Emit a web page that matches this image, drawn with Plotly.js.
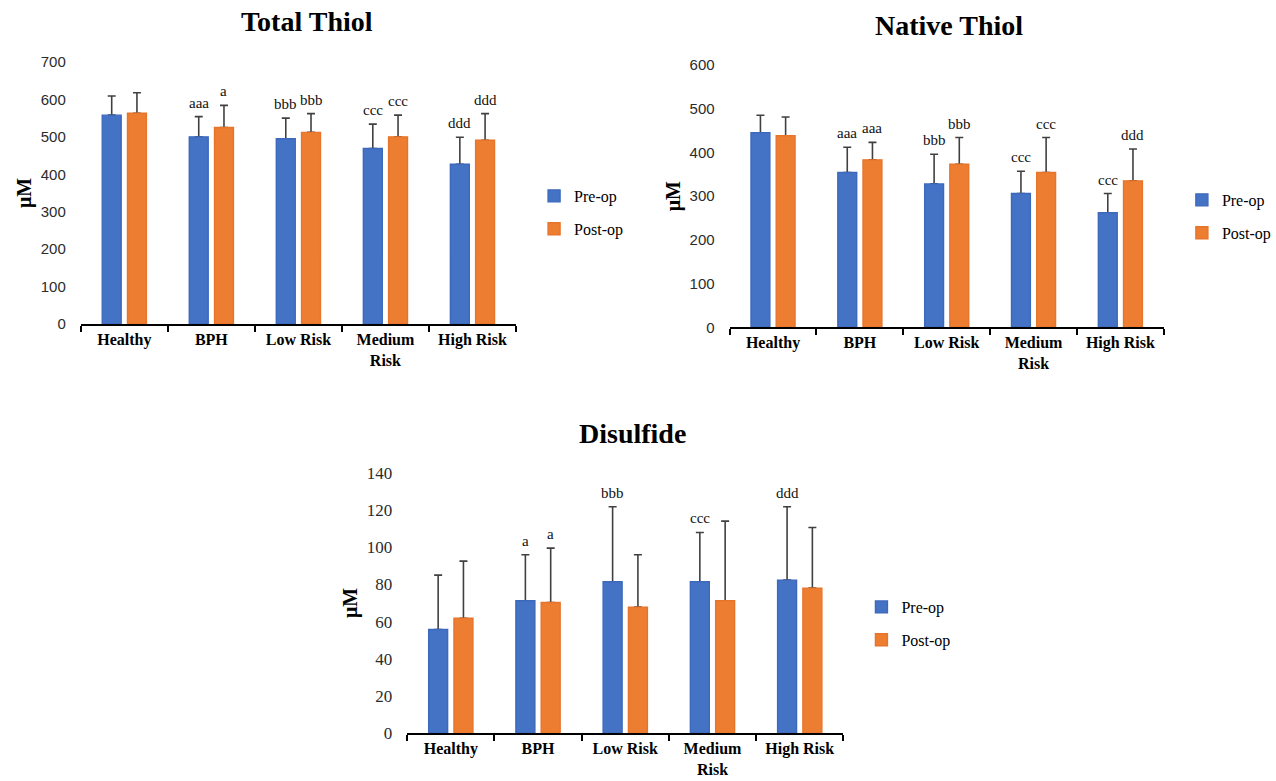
<!DOCTYPE html>
<html>
<head>
<meta charset="utf-8">
<script src="https://cdn.plot.ly/plotly-3.0.1.min.js"></script>
<style>html,body{margin:0;padding:0;background:#fff;}#chart{width:1276px;height:781px;}</style>
</head>
<body>
<div id="chart"></div>
<script>
// ---------- data ----------
const categories = ['Healthy', 'BPH', 'Low Risk', 'Medium Risk', 'High Risk'];
const tickLabels = ['Healthy', 'BPH', 'Low Risk', 'Medium<br>Risk', 'High Risk'];
const seriesNames = ['Pre-op', 'Post-op'];

const totalPre = [558, 500, 495, 469, 427];
const totalPreSD = [51, 54, 55, 65, 72];
const totalPost = [563, 525, 512, 500, 491];
const totalPostSD = [55, 59, 50, 58, 71];
const totalPreLabels = ['', 'aaa', 'bbb', 'ccc', 'ddd'];
const totalPostLabels = ['', 'a', 'bbb', 'ccc', 'ddd'];

const nativePre = [445, 354, 328, 306, 262];
const nativePreSD = [40, 58, 68, 51, 44];
const nativePost = [438, 383, 373, 354, 335];
const nativePostSD = [43, 40, 61, 80, 73];
const nativePreLabels = ['', 'aaa', 'bbb', 'ccc', 'ccc'];
const nativePostLabels = ['', 'aaa', 'bbb', 'ccc', 'ddd'];

const disPre = [55.8, 71.2, 81.4, 81.4, 82.3];
const disPreSD = [29.2, 24.7, 40.3, 26.5, 39.4];
const disPost = [61.8, 70.3, 67.8, 71.2, 78.0];
const disPostSD = [30.7, 29.2, 28.1, 42.8, 32.6];
const disPreLabels = ['', 'a', 'bbb', 'ccc', 'ddd'];
const disPostLabels = ['', 'a', '', '', ''];

const titles = ['Total Thiol', 'Native Thiol', 'Disulfide'];
const yTitle = 'μM';

// ---------- style ----------
const BLUE = '#4472C4', ORANGE = '#ED7D31', ERR = '#404040';
const BLUE_EDGE = '#3D69BD', ORANGE_EDGE = '#E8742A';
const SERIF = '"Liberation Serif", "Times New Roman", serif';
const SANS = '"Liberation Sans", Arial, sans-serif';
const W = 1276, H = 781;
const BARGAP = 0.42, BARGROUPGAP = 0.25;
const OFF = (1 - BARGAP) / 4;

function px(x) { return x / W; }
function py(y) { return (H - y) / H; }

// error-bar carrier (transparent bars, drawn first so the visible bars hide the lower cap)
function errTrace(name, y, sd, ax) {
  return {
    type: 'bar', name: name, x: categories, y: y,
    xaxis: 'x' + ax, yaxis: 'y' + ax, offsetgroup: name,
    marker: {color: 'rgba(0,0,0,0)'},
    error_y: {type: 'data', array: sd, arrayminus: sd.map(() => 0), symmetric: false,
              color: ERR, thickness: 1.6, width: 4},
    showlegend: false, hoverinfo: 'skip'
  };
}
function barTrace(name, y, color, edge, ax, legendId) {
  return {
    type: 'bar', name: name, x: categories, y: y,
    xaxis: 'x' + ax, yaxis: 'y' + ax, offsetgroup: name,
    marker: {color: color, line: {color: edge, width: 1.4}},
    legend: legendId, legendgroup: name + ax, showlegend: true,
    hoverinfo: 'x+y+name'
  };
}

const panels = [
  {ax: '', pre: totalPre, preSD: totalPreSD, post: totalPost, postSD: totalPostSD,
   preL: totalPreLabels, postL: totalPostLabels, legend: 'legend'},
  {ax: '2', pre: nativePre, preSD: nativePreSD, post: nativePost, postSD: nativePostSD,
   preL: nativePreLabels, postL: nativePostLabels, legend: 'legend2'},
  {ax: '3', pre: disPre, preSD: disPreSD, post: disPost, postSD: disPostSD,
   preL: disPreLabels, postL: disPostLabels, legend: 'legend3'}
];

const traces = [];
const annotations = [];
panels.forEach(p => {
  traces.push(errTrace(seriesNames[0], p.pre, p.preSD, p.ax));
  traces.push(errTrace(seriesNames[1], p.post, p.postSD, p.ax));
  traces.push(barTrace(seriesNames[0], p.pre, BLUE, BLUE_EDGE, p.ax, p.legend));
  traces.push(barTrace(seriesNames[1], p.post, ORANGE, ORANGE_EDGE, p.ax, p.legend));
  [[p.pre, p.preSD, p.preL, -OFF], [p.post, p.postSD, p.postL, OFF]].forEach(s => {
    s[2].forEach((lab, i) => {
      if (!lab) return;
      annotations.push({
        xref: 'x' + p.ax, yref: 'y' + p.ax, x: i + s[3], y: s[0][i] + s[1][i],
        text: lab, showarrow: false, yanchor: 'bottom', yshift: 4,
        font: {family: SERIF, size: 15, color: '#111'}
      });
    });
  });
});

// chart titles
const titlePos = [[310, 22], [960, 26], [640, 433]];
titles.forEach((t, k) => {
  annotations.push({
    xref: 'paper', yref: 'paper', x: px(titlePos[k][0]), y: py(titlePos[k][1]),
    xanchor: 'center', yanchor: 'middle', showarrow: false,
    text: '<b>' + t + '</b>', font: {family: SERIF, size: 28, color: '#000'}
  });
});

function xAxis(x0, x1, anchor) {
  return {
    domain: [px(x0), px(x1)], anchor: anchor, type: 'category',
    tickvals: categories, ticktext: tickLabels,
    showline: true, linecolor: '#000', linewidth: 1.5,
    ticks: 'outside', tickson: 'boundaries', ticklen: 6, tickwidth: 1.5, tickcolor: '#000',
    showgrid: false, zeroline: false, fixedrange: true,
    tickfont: {family: SERIF, size: 16, color: '#000', weight: 'bold'}
  };
}
function yAxis(y0, y1, range, dtick, anchor, font, fsize) {
  return {
    domain: [py(y0), py(y1)], anchor: anchor, range: range, dtick: dtick,
    showline: false, showgrid: false, zeroline: false, ticks: '',
    ticklabelstandoff: 14, fixedrange: true,
    tickfont: {family: font, size: fsize, color: '#2b2b2b'},
    title: {text: '<b>' + yTitle + '</b>', standoff: 3,
            font: {family: SERIF, size: 20, color: '#000'}}
  };
}

function legendCfg(cx, cy) {
  return {
    x: px(cx - 16), y: py(cy - 17), xanchor: 'left', yanchor: 'top',
    bgcolor: 'rgba(0,0,0,0)', borderwidth: 0, tracegroupgap: 9,
    traceorder: 'grouped', itemwidth: 30,
    font: {family: SERIF, size: 16, color: '#000'}
  };
}

const layout = {
  width: W, height: H,
  margin: {l: 0, r: 0, t: 0, b: 0},
  paper_bgcolor: '#fff', plot_bgcolor: '#fff',
  barmode: 'group', bargap: BARGAP, bargroupgap: BARGROUPGAP,
  xaxis: xAxis(81.7, 521.7, 'y'),
  yaxis: yAxis(324, 62, [0, 700], 100, 'x', SANS, 15),
  xaxis2: xAxis(737.7, 1176.7, 'y2'),
  yaxis2: yAxis(327.3, 65, [0, 600], 100, 'x2', SANS, 15),
  xaxis3: xAxis(411.7, 852.7, 'y3'),
  yaxis3: yAxis(733.3, 472.7, [0, 140], 20, 'x3', SERIF, 17),
  legend: legendCfg(556, 196),
  legend2: legendCfg(1211, 200),
  legend3: legendCfg(887, 607),
  annotations: annotations,
  showlegend: true
};

Plotly.newPlot('chart', traces, layout, {displayModeBar: false, responsive: false});
</script>
</body>
</html>
